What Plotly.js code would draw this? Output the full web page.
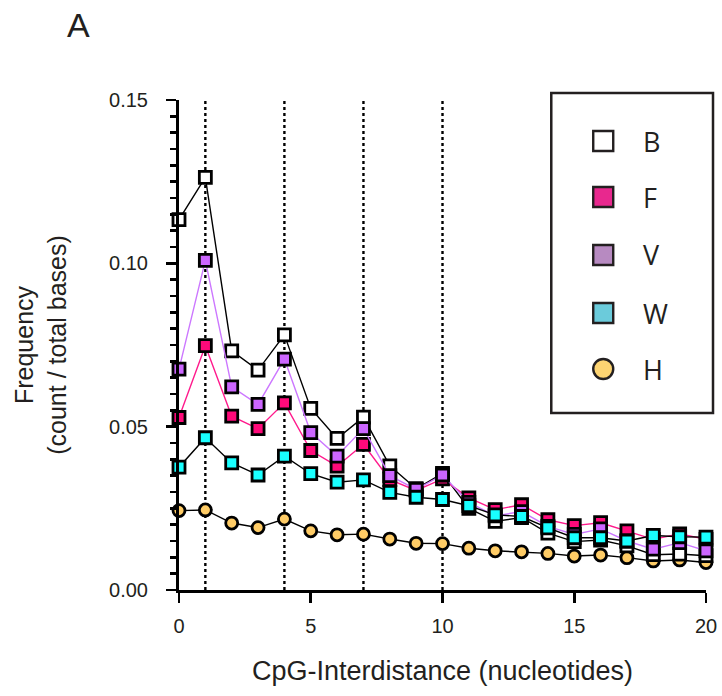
<!DOCTYPE html>
<html>
<head>
<meta charset="utf-8">
<script src="https://cdn.plot.ly/plotly-3.0.1.min.js"></script>
<style>html,body{margin:0;padding:0;background:#fff;}#chart{width:722px;height:696px;}</style>
</head>
<body>
<div id="chart"></div>
<script>
// CpG interdistance (nucleotides)
const distance = [0,1,2,3,4,5,6,7,8,9,10,11,12,13,14,15,16,17,18,19,20];
// Frequency (count / total bases) per group
const seriesB = [0.1134,0.1263,0.0732,0.0673,0.0781,0.0556,0.0464,0.0529,0.0380,0.0310,0.0357,0.0250,0.0210,0.0222,0.0174,0.0148,0.0153,0.0135,0.0108,0.0110,0.0105];
const seriesF = [0.0528,0.0748,0.0532,0.0494,0.0573,0.0427,0.0379,0.0446,0.0338,0.0305,0.0340,0.0282,0.0246,0.0261,0.0215,0.0197,0.0206,0.0181,0.0155,0.0172,0.0155];
const seriesV = [0.0676,0.1009,0.0622,0.0568,0.0707,0.0482,0.0410,0.0494,0.0350,0.0308,0.0352,0.0268,0.0227,0.0240,0.0195,0.0170,0.0187,0.0150,0.0125,0.0145,0.0120];
const seriesW = [0.0376,0.0466,0.0389,0.0352,0.0410,0.0356,0.0330,0.0337,0.0299,0.0284,0.0277,0.0258,0.0230,0.0225,0.0190,0.0160,0.0160,0.0150,0.0167,0.0163,0.0162];
const seriesH = [0.0243,0.0245,0.0205,0.0191,0.0217,0.0181,0.0169,0.0171,0.0156,0.0143,0.0142,0.0128,0.0120,0.0117,0.0112,0.0104,0.0107,0.0099,0.0089,0.0092,0.0084];
const seriesNames = ['B','F','V','W','H'];
const guideDistances = [1,4,7,10];
const yTickVals = [0,0.05,0.10,0.15];
const yTickText = ['0.00','0.05','0.10','0.15'];
const xTickVals = [0,5,10,15,20];

const FONT = 'Liberation Sans, Arial, sans-serif';
const styles = {
  B: {fill:'#ffffff', line:'#000000', symbol:'square', leg:'#ffffff'},
  F: {fill:'#ff0a7a', line:'#ff1a8c', symbol:'square', leg:'#e8288e'},
  V: {fill:'#cc66ff', line:'#cc77ff', symbol:'square', leg:'#b78ac1'},
  W: {fill:'#19ffff', line:'#000000', symbol:'square', leg:'#6bcbdb'},
  H: {fill:'#ffcc66', line:'#000000', symbol:'circle', leg:'#fdd472'}
};
const dataByName = {B:seriesB, F:seriesF, V:seriesV, W:seriesW, H:seriesH};
const drawOrder = ['H','B','F','V','W'];

const traces = drawOrder.map(n => ({
  type:'scatter', mode:'lines+markers', name:n, x:distance, y:dataByName[n],
  cliponaxis:false, showlegend:false,
  line:{color:styles[n].line, width:1.4},
  marker:{symbol:styles[n].symbol, size:12, color:styles[n].fill, line:{color:'#000000', width:2.8}}
}));

const shapes = guideDistances.map(d => ({
  type:'line', xref:'x', yref:'y', x0:d, x1:d, y0:0, y1:0.15,
  line:{color:'#000000', width:2.4, dash:'dot'}, layer:'below'
}));
// legend box
shapes.push({type:'rect', xref:'paper', yref:'paper', x0:0.7064, x1:1.0133, y0:0.3612, y1:1.0143,
  line:{color:'#231f20', width:2.5}, fillcolor:'rgba(0,0,0,0)'});
const legY = [0.9163,0.8020,0.6837,0.5653,0.4510];
const annotations = [];
seriesNames.forEach((n,i) => {
  shapes.push({type: styles[n].symbol === 'circle' ? 'circle' : 'rect',
    xref:'paper', yref:'paper', xsizemode:'pixel', ysizemode:'pixel',
    xanchor:0.805, yanchor:legY[i], x0:-10, x1:10, y0:-10, y1:10,
    fillcolor:styles[n].leg, line:{color:'#231f20', width:2.4}});
  annotations.push({xref:'paper', yref:'paper', x:0.877, y:legY[i], xanchor:'left', yanchor:'middle',
    text:n, showarrow:false, font:{family:'Open Sans, sans-serif', size:27, color:'#231f20'}});
});
annotations.push({xref:'paper', yref:'paper', x:-0.19, y:1.153, xanchor:'center', yanchor:'middle',
  text:'A', showarrow:false, font:{family:FONT, size:34, color:'#231f20'}});

const layout = {
  width:722, height:696,
  margin:{l:179, r:16, t:100, b:106},
  paper_bgcolor:'#ffffff', plot_bgcolor:'#ffffff',
  showlegend:false,
  font:{family:FONT, color:'#231f20'},
  xaxis:{range:[0,20], tickvals:xTickVals, ticks:'outside', ticklen:10, tickwidth:2.6, tickcolor:'#000',
    showline:true, linewidth:3, linecolor:'#000', showgrid:false, zeroline:false,
    tickfont:{family:FONT, size:20, color:'#231f20'}, ticklabelstandoff:6,
    title:{text:'CpG-Interdistance (nucleotides)', font:{family:FONT, size:27, color:'#231f20'}, standoff:26}},
  yaxis:{range:[0,0.15], tickvals:yTickVals, ticktext:yTickText, ticks:'outside', ticklen:10, tickwidth:2.6, tickcolor:'#000',
    minor:{dtick:0.005, ticks:'outside', ticklen:6, tickwidth:2.4, tickcolor:'#000', showgrid:false},
    showline:true, linewidth:3, linecolor:'#000', showgrid:false, zeroline:false,
    tickfont:{family:FONT, size:20, color:'#231f20'}, ticklabelstandoff:14,
    title:{text:'Frequency<br>(count / total bases)', font:{family:FONT, size:25, color:'#231f20'}, standoff:36}},
  shapes:shapes, annotations:annotations
};
Plotly.newPlot('chart', traces, layout, {displayModeBar:false, staticPlot:true});
</script>
</body>
</html>
